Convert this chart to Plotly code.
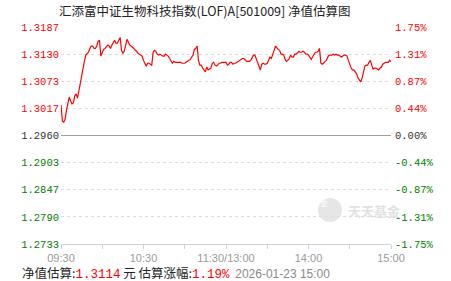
import plotly.graph_objects as go

# ---------------- data ----------------
base_nav = 1.2960
nav = [
    1.3024, 1.2990, 1.2988, 1.2994, 1.3013, 1.3030, 1.3040, 1.3032, 1.3026, 1.3028,
    1.3043, 1.3047, 1.3038, 1.3053, 1.3070, 1.3088, 1.3107, 1.3115, 1.3128, 1.3132,
    1.3134, 1.3142, 1.3147, 1.3147, 1.3142, 1.3142, 1.3147, 1.3157, 1.3159, 1.3126,
    1.3134, 1.3140, 1.3142, 1.3147, 1.3149, 1.3147, 1.3142, 1.3149, 1.3155, 1.3159,
    1.3153, 1.3153, 1.3159, 1.3165, 1.3138, 1.3132, 1.3136, 1.3149, 1.3161, 1.3155,
    1.3149, 1.3147, 1.3145, 1.3142, 1.3138, 1.3136, 1.3132, 1.3130, 1.3128, 1.3126,
    1.3117, 1.3109, 1.3105, 1.3111, 1.3111, 1.3109, 1.3107, 1.3134, 1.3138, 1.3136,
    1.3130, 1.3128, 1.3130, 1.3128, 1.3126, 1.3126, 1.3130, 1.3128, 1.3126, 1.3121,
    1.3115, 1.3111, 1.3115, 1.3113, 1.3113, 1.3113, 1.3113, 1.3113, 1.3111, 1.3111,
    1.3111, 1.3113, 1.3115, 1.3117, 1.3119, 1.3124, 1.3128, 1.3140, 1.3142, 1.3147,
    1.3117, 1.3107, 1.3107, 1.3101, 1.3097, 1.3093, 1.3103, 1.3097, 1.3099, 1.3101,
    1.3111, 1.3113, 1.3107, 1.3105, 1.3107, 1.3111, 1.3111, 1.3113, 1.3113, 1.3113,
    1.3113, 1.3107, 1.3109, 1.3113, 1.3113, 1.3109, 1.3111, 1.3111, 1.3113, 1.3115,
    1.3117, 1.3119, 1.3121, 1.3121, 1.3117, 1.3115, 1.3115, 1.3115, 1.3117, 1.3124,
    1.3128, 1.3128, 1.3119, 1.3111, 1.3101, 1.3097, 1.3109, 1.3111, 1.3109, 1.3109,
    1.3111, 1.3119, 1.3124, 1.3121, 1.3128, 1.3138, 1.3147, 1.3142, 1.3140, 1.3138,
    1.3130, 1.3130, 1.3128, 1.3119, 1.3115, 1.3117, 1.3121, 1.3128, 1.3124, 1.3124,
    1.3130, 1.3130, 1.3134, 1.3136, 1.3134, 1.3134, 1.3136, 1.3134, 1.3130, 1.3130,
    1.3128, 1.3124, 1.3119, 1.3124, 1.3130, 1.3134, 1.3134, 1.3136, 1.3142, 1.3111,
    1.3109, 1.3111, 1.3115, 1.3117, 1.3124, 1.3128, 1.3128, 1.3128, 1.3130, 1.3128,
    1.3130, 1.3128, 1.3128, 1.3126, 1.3124, 1.3126, 1.3128, 1.3128, 1.3126, 1.3117,
    1.3107, 1.3101, 1.3097, 1.3097, 1.3093, 1.3089, 1.3080, 1.3076, 1.3072, 1.3080,
    1.3097, 1.3105, 1.3107, 1.3107, 1.3113, 1.3117, 1.3107, 1.3099, 1.3101, 1.3101,
    1.3099, 1.3097, 1.3101, 1.3103, 1.3109, 1.3111, 1.3113, 1.3113, 1.3113, 1.3117,
    1.3114,
]
minute_index = list(range(len(nav)))

pct_levels = [1.75, 1.3125, 0.875, 0.4375, 0.0, -0.4375, -0.875, -1.3125, -1.75]
left_labels = ["1.3187", "1.3130", "1.3073", "1.3017", "1.2960",
               "1.2903", "1.2847", "1.2790", "1.2733"]
right_labels = ["1.75%", "1.31%", "0.87%", "0.44%", "0.00%",
                "-0.44%", "-0.87%", "-1.31%", "-1.75%"]
x_tick_pos = [0, 30, 60, 90, 120, 150, 180, 210, 240]
x_tick_labels = ["09:30", "", "10:30", "", "11:30/13:00", "", "14:00", "", "15:00"]

title_text = "汇添富中证生物科技指数(LOF)A[501009] 净值估算图"
est_nav = "1.3114"
est_pct = "1.19%"
est_time = "2026-01-23 15:00"

# ---------------- styling helpers ----------------
RED = "#ff0000"
GREEN = "#008000"
DARK = "#333333"


def colour_for(p):
    if p > 0:
        return RED
    if p < 0:
        return GREEN
    return DARK


left_vals = [base_nav * (1 + p / 100) for p in pct_levels]
left_text = ['<span style="color:%s">%s</span>' % (colour_for(p), t)
             for p, t in zip(pct_levels, left_labels)]
right_text = ['<span style="color:%s">%s</span>' % (colour_for(p), t)
              for p, t in zip(pct_levels, right_labels)]
pct_series = [(v / base_nav - 1) * 100 for v in nav]

W, H = 451, 281
ML, MR, MT, MB = 61, 60, 27, 37
PW, PH = W - ML - MR, H - MT - MB


def px(x):
    return (x - ML) / PW


def py(y):
    return (H - MB - y) / PH


fig = go.Figure()
fig.add_trace(go.Scatter(
    x=minute_index, y=nav, mode="lines",
    line=dict(color=RED, width=1.2), hoverinfo="skip", showlegend=False))
fig.add_trace(go.Scatter(
    x=minute_index, y=pct_series, yaxis="y2", mode="lines",
    line=dict(color="rgba(0,0,0,0)", width=0), hoverinfo="skip", showlegend=False))

mono = "Liberation Mono"
fig.update_layout(
    width=W, height=H,
    margin=dict(l=ML, r=MR, t=MT, b=MB, pad=0),
    paper_bgcolor="white", plot_bgcolor="white",
    showlegend=False,
    xaxis=dict(
        range=[0, 240], tickmode="array", tickvals=x_tick_pos, ticktext=x_tick_labels,
        showgrid=False, zeroline=False, showline=True, linecolor="#c8d3de", linewidth=1,
        ticks="outside", ticklen=4, tickcolor="#c8d3de", tickwidth=1,
        tickfont=dict(family="Liberation Sans", size=11, color="#9a9a9a"),
        ticklabelstandoff=0, fixedrange=True,
    ),
    yaxis=dict(
        range=[left_vals[-1], left_vals[0]], tickmode="array", tickvals=left_vals,
        ticktext=left_text, showgrid=True, gridcolor="#dcdcdc", griddash="dot",
        gridwidth=1, zeroline=False, showline=False, ticks="",
        tickfont=dict(family=mono, size=10.5, color=DARK), ticklabelstandoff=1,
        fixedrange=True,
    ),
    yaxis2=dict(
        overlaying="y", side="right", range=[-1.75, 1.75], tickmode="array",
        tickvals=pct_levels, ticktext=right_text, showgrid=False,
        zeroline=True, zerolinecolor="#a0a0a0", zerolinewidth=1, showline=False,
        ticks="", tickfont=dict(family=mono, size=10.5, color=DARK),
        ticklabelstandoff=3, fixedrange=True,
    ),
)

# title
fig.add_annotation(
    text=title_text, xref="paper", yref="paper", x=px(57), y=py(10),
    xanchor="left", yanchor="middle", showarrow=False,
    font=dict(family="Noto Sans CJK SC", size=12.5, color="#222222"))

# bottom summary line
summary = ('净值估算:<span style="color:%s;font-family:%s">%s</span> 元 估算涨幅:'
           '<span style="color:%s;font-family:%s">%s</span>  '
           '<span style="color:#8a8a8a;font-family:Liberation Sans;font-size:12px">%s</span>'
           % (RED, mono, est_nav, RED, mono, est_pct, est_time))
fig.add_annotation(
    text=summary, xref="paper", yref="paper", x=px(20), y=py(272),
    xanchor="left", yanchor="middle", showarrow=False,
    font=dict(family="Noto Sans CJK SC", size=12.5, color="#222222"))

# watermark logo
fig.add_shape(type="circle", xref="paper", yref="paper",
              x0=px(318), x1=px(342), y0=py(222), y1=py(198),
              fillcolor="#e6e6e6", line=dict(width=0), layer="below")
fig.add_annotation(text="基金", xref="paper", yref="paper", x=px(330), y=py(210),
                   showarrow=False, font=dict(family="Noto Sans CJK SC", size=8, color="white"))
fig.add_annotation(text="<b>天天基金</b>", xref="paper", yref="paper", x=px(346), y=py(210),
                   xanchor="left", yanchor="middle", showarrow=False,
                   font=dict(family="Noto Sans CJK SC", size=13, color="#e2e2e2"))

fig.write_html("out.html")
